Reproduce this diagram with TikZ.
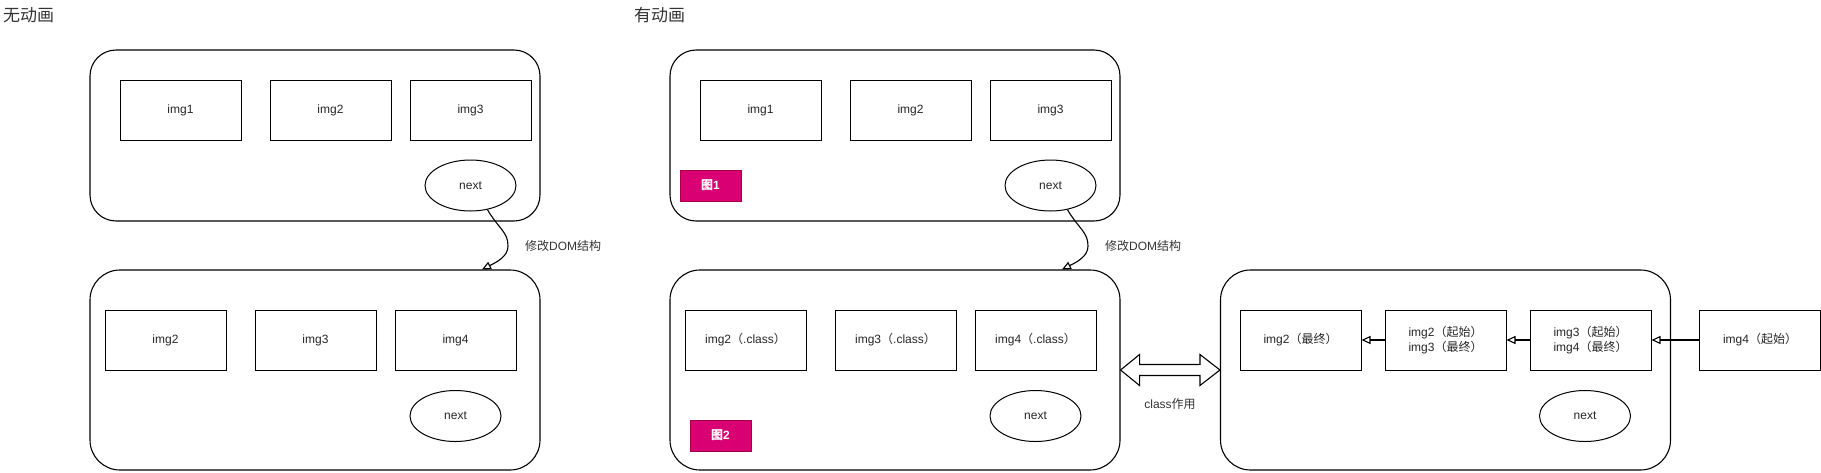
\documentclass[tikz,border=0pt]{standalone}
\usepackage{fontspec}
\setmainfont{Liberation Sans}
\newfontfamily\cjk{Noto Sans CJK SC}
\usetikzlibrary{arrows.meta,calc,shapes.geometric}
\newcommand{\zh}[1]{{\cjk #1}}
\definecolor{tagfill}{HTML}{D80073}
\definecolor{tagedge}{HTML}{A50040}
\tikzset{
    panel/.style={draw, rounded corners=26pt, minimum width=450pt, minimum height=171pt, line width=1.1pt},
    tallpanel/.style={panel, rounded corners=30pt, minimum height=200pt},
    imgbox/.style={draw, minimum width=121pt, minimum height=60pt, inner sep=0pt, line width=1pt,
        align=center, text=black!85, font=\fontsize{12}{15}\selectfont},
    nextbtn/.style={draw, ellipse, minimum width=91pt, minimum height=51pt, inner sep=0pt, line width=1pt,
        text=black!85, font=\fontsize{12}{15}\selectfont},
    tag/.style={draw=tagedge, fill=tagfill, text=white, minimum width=61pt, minimum height=31pt,
        inner sep=0pt, font=\bfseries\fontsize{12}{15}\selectfont},
    title/.style={anchor=west, inner sep=0pt, text=black!80, font=\fontsize{17}{20}\selectfont},
    note/.style={anchor=west, inner sep=0pt, text=black!80, font=\fontsize{12}{15}\selectfont},
    edge/.style={-{Triangle[open, length=9pt, width=8pt]}, line width=1.1pt},
}
\begin{document}
\begin{tikzpicture}[x=1pt, y=-1pt]
        \path[use as bounding box, fill=white] (0,0) rectangle (1821,472);

        % without animation
        \node[title] (ttl_a) at (3, 15) {\zh{无动画}};
        \node[panel] (panel1) at (315, 135.5) {};
        \node[imgbox] (p1_img1) at (180.5, 110) {img1};
        \node[imgbox] (p1_img2) at (330.5, 110) {img2};
        \node[imgbox] (p1_img3) at (470.5, 110) {img3};
        \node[nextbtn] (p1_next) at (470.5, 185.5) {next};

        \node[tallpanel] (panel2) at (315, 370) {};
        \node[imgbox] (p2_img2) at (165.5, 340) {img2};
        \node[imgbox] (p2_img3) at (315.5, 340) {img3};
        \node[imgbox] (p2_img4) at (455.5, 340) {img4};
        \node[nextbtn] (p2_next) at (455.5, 416) {next};

        \coordinate (bend_a) at (508, 246);
        \draw[edge] (p1_next.-55) .. controls +(12,20) and +(0,-14) .. (bend_a)
            .. controls +(0,10) and +(16,-8) .. ([xshift=167]panel2.north);
        \node[note] (dom_a) at ([xshift=17]bend_a) {\zh{修改}DOM\zh{结构}};

        % with animation
        \node[title] (ttl_b) at (634, 15) {\zh{有动画}};
        \node[panel] (panel3) at (895, 135.5) {};
        \node[imgbox] (p3_img1) at (760.5, 110) {img1};
        \node[imgbox] (p3_img2) at (910.5, 110) {img2};
        \node[imgbox] (p3_img3) at (1050.5, 110) {img3};
        \node[tag] (tag1) at (710.5, 185.5) {\zh{图}1};
        \node[nextbtn] (p3_next) at (1050.5, 185.5) {next};

        \node[tallpanel] (panel4) at (895, 370) {};
        \node[imgbox] (p4_img2) at (745.5, 340) {img2\zh{（}.class\zh{）}};
        \node[imgbox] (p4_img3) at (895.5, 340) {img3\zh{（}.class\zh{）}};
        \node[imgbox] (p4_img4) at (1035.5, 340) {img4\zh{（}.class\zh{）}};
        \node[tag] (tag2) at (720.5, 435.5) {\zh{图}2};
        \node[nextbtn] (p4_next) at (1035.5, 416) {next};

        \coordinate (bend_b) at (1088, 246);
        \draw[edge] (p3_next.-55) .. controls +(12,20) and +(0,-14) .. (bend_b)
            .. controls +(0,10) and +(16,-8) .. ([xshift=167]panel4.north);
        \node[note] (dom_b) at ([xshift=17]bend_b) {\zh{修改}DOM\zh{结构}};

        \node[tallpanel] (panel5) at (1445.5, 370) {};
        \node[imgbox] (p5_b1) at (1300.5, 340) {img2\zh{（最终）}};
        \node[imgbox] (p5_b2) at (1445.5, 340) {img2\zh{（起始）}\\img3\zh{（最终）}};
        \node[imgbox] (p5_b3) at (1590.5, 340) {img3\zh{（起始）}\\img4\zh{（最终）}};
        \node[imgbox] (p5_b4) at (1760, 340) {img4\zh{（起始）}};
        \node[nextbtn] (p5_next) at (1585, 416) {next};

        \draw[edge] (p5_b4) -- (p5_b3);
        \draw[edge] (p5_b3) -- (p5_b2);
        \draw[edge] (p5_b2) -- (p5_b1);

        % class arrow
        \draw[line width=1.1pt, fill=white] (panel4.east) -- ++(19,-15.5) -- ++(0,10)
            -- ($(panel5.west)+(-20,-5.5)$) -- ++(0,-10) -- (panel5.west) -- ++(-20,15.5)
            -- ++(0,-10) -- ($(panel4.east)+(19,5.5)$) -- ++(0,10) -- cycle;
        \node[note, anchor=center] (cls) at (1170, 404) {class\zh{作用}};
\end{tikzpicture}
\end{document}
